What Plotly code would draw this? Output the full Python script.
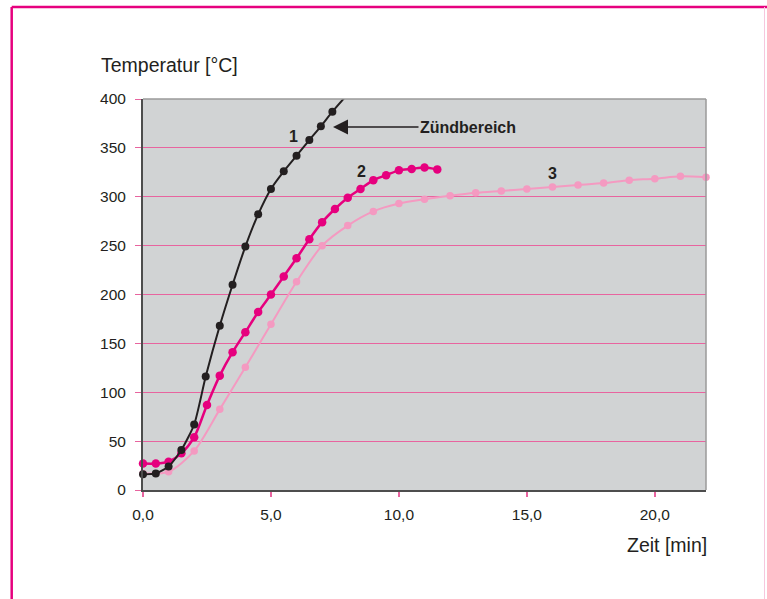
import plotly.graph_objects as go

# ---- data ----
t1 = [0, 0.5, 1, 1.5, 2, 2.45, 3, 3.5, 4, 4.5, 5, 5.5, 6, 6.5, 6.95, 7.4]
T1 = [16, 17, 24, 41, 67, 116, 168, 210, 249, 282, 308, 326, 342, 358, 372, 387]
t1_tail = [8.0]
T1_tail = [405]

t2 = [0, 0.5, 1, 1.5, 2, 2.5, 3, 3.5, 4, 4.5, 5, 5.5, 6, 6.5, 7, 7.5, 8, 8.5, 9, 9.5, 10, 10.5, 11, 11.5]
T2 = [27, 27, 29, 37.5, 54, 87, 117, 141, 161.5, 182, 200, 218.5, 237, 256.5, 274, 287.5, 299, 308, 317, 322, 327, 328.5, 330, 328]

t3 = [0, 1, 2, 3, 4, 5, 6, 7, 8, 9, 10, 11, 12, 13, 14, 15, 16, 17, 18, 19, 20, 21, 22]
T3 = [17, 18.7, 40, 82.5, 125.5, 169.5, 213, 250, 270.5, 285, 293, 297.5, 301, 304, 306, 308, 310, 312, 314, 317, 318.5, 321, 320]

x_ticks = [0, 5, 10, 15, 20]
y_ticks = [0, 50, 100, 150, 200, 250, 300, 350, 400]

BLACK = "#231f20"
MAGENTA = "#e6007e"
LIGHT = "#f49ac1"
GRID = "#e8649f"
FONT = "Liberation Sans, Arial, sans-serif"

fig = go.Figure()

# series 3 (light pink)
fig.add_trace(go.Scatter(x=t3, y=T3, mode="lines+markers",
                         line=dict(color=LIGHT, width=2, shape="spline", smoothing=0.8),
                         marker=dict(color=LIGHT, size=7.5), cliponaxis=False, showlegend=False))
# series 2 (magenta)
fig.add_trace(go.Scatter(x=t2, y=T2, mode="lines+markers",
                         line=dict(color=MAGENTA, width=2.5, shape="spline", smoothing=0.8),
                         marker=dict(color=MAGENTA, size=8.5), cliponaxis=False, showlegend=False))
# series 1 (black) line incl. continuation beyond the top
fig.add_trace(go.Scatter(x=t1 + t1_tail, y=T1 + T1_tail, mode="lines",
                         line=dict(color=BLACK, width=2, shape="spline", smoothing=0.6),
                         cliponaxis=True, showlegend=False))
fig.add_trace(go.Scatter(x=t1, y=T1, mode="markers",
                         marker=dict(color=BLACK, size=8), cliponaxis=False, showlegend=False))

L, R, T, B = 143, 61, 99, 109
W, H = 767, 599
pw, ph = W - L - R, H - T - B

def px(xp):
    return (xp - L) / pw

def py(yp):
    return (H - B - yp) / ph

shapes = [
    # plot frame top & right (light gray)
    dict(type="line", xref="paper", yref="paper", x0=0, x1=1, y0=1, y1=1,
         line=dict(color="#9a9a9a", width=1.5)),
    dict(type="line", xref="paper", yref="paper", x0=1, x1=1, y0=0, y1=1,
         line=dict(color="#9a9a9a", width=1.5)),
    # outer pink border
    dict(type="line", xref="paper", yref="paper", x0=px(11.7), x1=px(770), y0=py(7), y1=py(7),
         line=dict(color=MAGENTA, width=2.5)),
    dict(type="line", xref="paper", yref="paper", x0=px(11.7), x1=px(11.7), y0=py(7), y1=py(620),
         line=dict(color=MAGENTA, width=2.5)),
    dict(type="line", xref="paper", yref="paper", x0=px(764.5), x1=px(764.5), y0=py(7), y1=py(620),
         line=dict(color="#f7c6dd", width=1)),
]

annotations = [
    dict(text="Temperatur [°C]", xref="paper", yref="paper", x=px(99), y=py(65),
         xanchor="left", yanchor="middle", showarrow=False,
         font=dict(family=FONT, size=19.5, color="#231f20")),
    dict(text="Zeit [min]", xref="paper", yref="paper", x=px(709), y=py(545),
         xanchor="right", yanchor="middle", showarrow=False,
         font=dict(family=FONT, size=19.5, color="#231f20")),
    dict(text="<b>1</b>", xref="x", yref="y", x=(293 - L) / pw * 22, y=(H - B - 136) / ph * 400,
         showarrow=False, font=dict(family=FONT, size=16, color="#231f20")),
    dict(text="<b>2</b>", xref="x", yref="y", x=(361 - L) / pw * 22, y=(H - B - 171) / ph * 400,
         showarrow=False, font=dict(family=FONT, size=16, color="#231f20")),
    dict(text="<b>3</b>", xref="x", yref="y", x=(552 - L) / pw * 22, y=(H - B - 173) / ph * 400,
         showarrow=False, font=dict(family=FONT, size=16, color="#231f20")),
    dict(text="<b>Zündbereich</b>", xref="x", yref="y",
         x=(333 - L) / pw * 22, y=(H - B - 127) / ph * 400,
         ax=135, ay=0, showarrow=True, arrowhead=2, arrowsize=2, arrowwidth=1.5,
         arrowcolor="#231f20", standoff=0,
         font=dict(family=FONT, size=16, color="#231f20")),
]

fig.update_layout(
    width=W, height=H,
    margin=dict(l=L, r=R, t=T, b=B, pad=0),
    paper_bgcolor="white",
    plot_bgcolor="#d1d3d4",
    separators=",.",
    font=dict(family=FONT, size=15, color="#231f20"),
    shapes=shapes,
    annotations=annotations,
    xaxis=dict(range=[0, 22], tickvals=x_ticks, tickformat=".1f",
               showgrid=False, zeroline=False,
               showline=True, linecolor="#4d4d4d", linewidth=2,
               ticks="outside", ticklen=5, tickcolor=GRID, tickwidth=1.5,
               ticklabelstandoff=4,
               tickfont=dict(family=FONT, size=15.5, color="#231f20")),
    yaxis=dict(range=[0, 400], tickvals=y_ticks,
               showgrid=True, gridcolor=GRID, gridwidth=1.2, zeroline=False,
               showline=True, linecolor="#4d4d4d", linewidth=2,
               ticks="outside", ticklen=6, tickcolor=GRID, tickwidth=1.2,
               ticklabelstandoff=6,
               tickfont=dict(family=FONT, size=15.5, color="#231f20")),
)

fig.write_html("out.html", config={"displayModeBar": False},
               post_script="document.body.style.margin='0px';document.body.style.overflow='hidden';")
